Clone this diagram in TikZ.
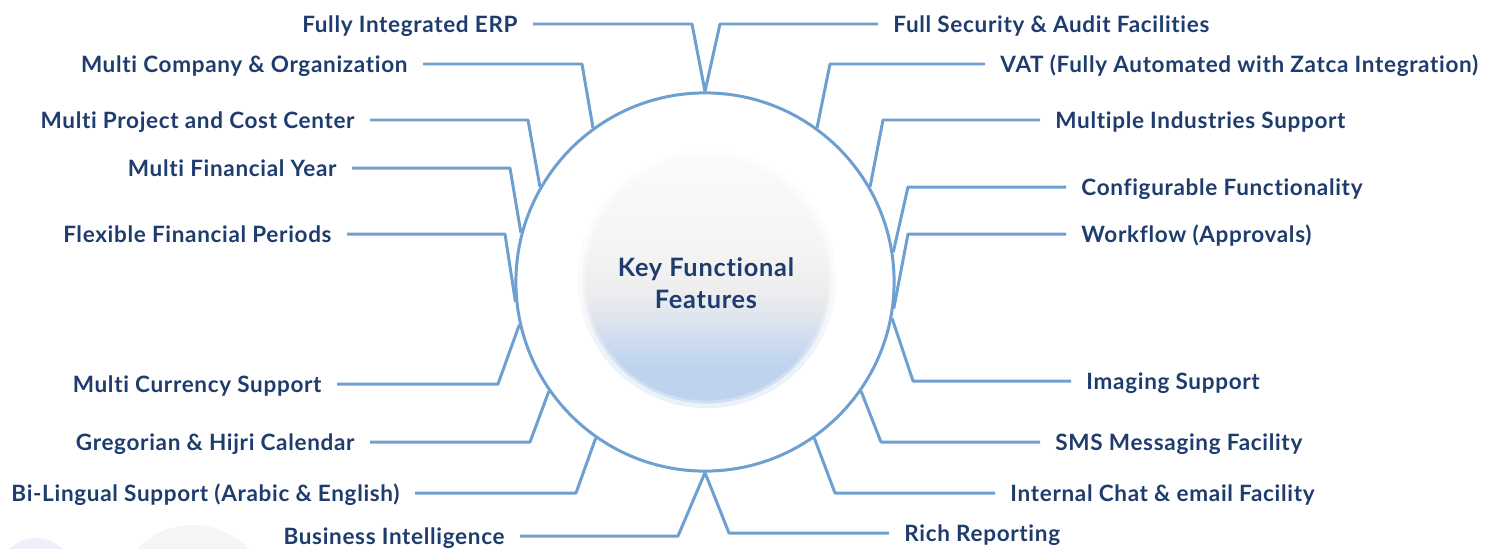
\documentclass[tikz,border=0pt]{standalone}
\usepackage{fontspec}
\setmainfont{Lato}[Ligatures=NoCommon, LetterSpace=3]
\usepackage{tikz}
\usepackage{xcolor}
\definecolor{feature-navy}{HTML}{1E3C6E}
\definecolor{feature-blue}{HTML}{6E9FD1}
\definecolor{glow-blue}{HTML}{BDD3EE}
\definecolor{glow-mist}{HTML}{D2DEEE}
\definecolor{glow-haze}{HTML}{E3E8EE}
\definecolor{glow-grey}{HTML}{EEEEEE}
\definecolor{glow-light}{HTML}{F5F5F5}
\definecolor{glow-top}{HTML}{FBFBFB}
\pgfdeclareverticalshading{hub-glow-shade}{100bp}{color(0bp)=(glow-blue); color(25bp)=(glow-blue); color(33bp)=(glow-blue); color(39bp)=(glow-mist); color(44bp)=(glow-haze); color(48bp)=(glow-grey); color(57bp)=(glow-light); color(75bp)=(glow-top); color(100bp)=(glow-top)}
\tikzset{
    feature-line/.style = {draw=feature-blue, line width=0.85pt, line join=round},
    feature-left/.style = {anchor=mid east, text=feature-navy, font=\bfseries\fontsize{6.4}{7}\selectfont, inner xsep=4.2pt, inner ysep=0pt},
    feature-right/.style = {feature-left, anchor=mid west},
    hub-circle/.style = {circle, draw=feature-blue, line width=0.85pt, fill=white, minimum size=3.78cm, inner sep=0pt},
    hub-glow/.style = {circle, minimum size=2.58cm, inner sep=0pt, shading=hub-glow-shade},
    hub-soft/.style = {draw=white, line width=2pt},
    hub-title/.style = {text=feature-navy, font=\bfseries\fontsize{7.2}{9.1}\selectfont, align=center},
}

\begin{document}
\begin{tikzpicture}[x=0.01cm, y=-0.01cm]
\useasboundingbox (0,0) rectangle (1500,548);
\begin{scope}
    \clip (0,0) rectangle (1500,548);
    \fill[fill=cyan!40!blue!7] (36,575) circle [radius=0.37cm];
    \fill[fill=black!4] (193,602) circle [radius=0.77cm];
\end{scope}
\node [hub-circle] (hub) at (705,282) {};
\node [hub-glow] (glow) at (707,279) {};
\draw [hub-soft, opacity=0.3] (glow.center) circle [radius=1.25cm];
\draw [hub-soft, opacity=0.6] (glow.center) circle [radius=1.28cm];
\node [hub-title] (title) at (706,283) {Key Functional\\Features};

\node [feature-left] (erp) at (533,24) {Fully Integrated ERP};
\node [feature-left] (company) at (423,64) {Multi Company \& Organization};
\node [feature-left] (project) at (370,120) {Multi Project and Cost Center};
\node [feature-left] (finyear) at (352,168) {Multi Financial Year};
\node [feature-left] (periods) at (347,234) {Flexible Financial Periods};
\node [feature-left] (currency) at (337,384) {Multi Currency Support};
\node [feature-left] (calendar) at (370,442) {Gregorian \& Hijri Calendar};
\node [feature-left] (lingual) at (415,493) {Bi-Lingual Support (Arabic \& English)};
\node [feature-left] (bi) at (520,536) {Business Intelligence};

\node [feature-right] (security) at (878,24) {Full Security \& Audit Facilities};
\node [feature-right] (vat) at (985,64) {VAT (Fully Automated with Zatca Integration)};
\node [feature-right] (industries) at (1040,120) {Multiple Industries Support};
\node [feature-right] (config) at (1066,187) {Configurable Functionality};
\node [feature-right] (workflow) at (1066,234) {Workflow (Approvals)};
\node [feature-right] (imaging) at (1071,381) {Imaging Support};
\node [feature-right] (sms) at (1040,442) {SMS Messaging Facility};
\node [feature-right] (chat) at (995,493) {Internal Chat \& email Facility};
\node [feature-right] (reporting) at (889,533) {Rich Reporting};

\draw [feature-line] (erp.mid east) -- (692,24) -- (hub.90);
\draw [feature-line] (company.mid east) -- (582,64) -- (hub.126);
\draw [feature-line] (project.mid east) -- (528,120) -- (hub.150);
\draw [feature-line] (finyear.mid east) -- (510,168) -- (hub.165);
\draw [feature-line] (periods.mid east) -- (505,234) -- (hub.186);
\draw [feature-line] (currency.mid east) -- (498,384) -- (hub.193);
\draw [feature-line] (calendar.mid east) -- (530,442) -- (hub.215);
\draw [feature-line] (lingual.mid east) -- (576,493) -- (hub.235);
\draw [feature-line] (bi.mid east) -- (678,536) -- (hub.270);

\draw [feature-line] (security.mid west) -- (720,24) -- (hub.90);
\draw [feature-line] (vat.mid west) -- (830,64) -- (hub.54);
\draw [feature-line] (industries.mid west) -- (883,120) -- (hub.30);
\draw [feature-line] (config.mid west) -- (908,187) -- (hub.9);
\draw [feature-line] (workflow.mid west) -- (908,234) -- (hub.-8);
\draw [feature-line] (imaging.mid west) -- (913,381) -- (hub.-11);
\draw [feature-line] (sms.mid west) -- (881,442) -- (hub.-35);
\draw [feature-line] (chat.mid west) -- (835,493) -- (hub.-55);
\draw [feature-line] (reporting.mid west) -- (729,533) -- (hub.270);
\end{tikzpicture}
\end{document}
